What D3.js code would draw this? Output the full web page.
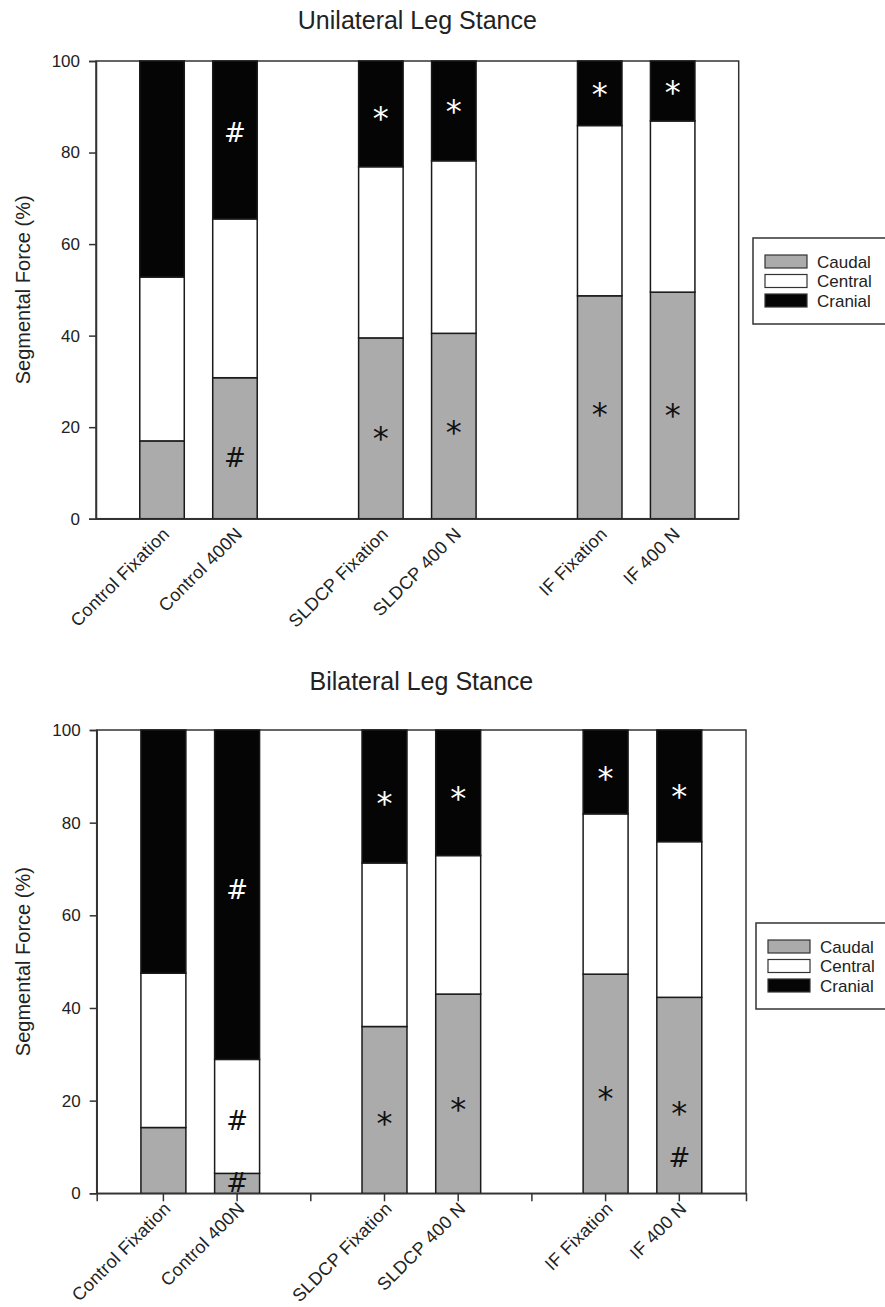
<!DOCTYPE html>
<html>
<head>
<meta charset="utf-8">
<script src="https://cdn.jsdelivr.net/npm/d3@7"></script>
<style>
  body { margin: 0; background: #fff; }
  text { font-family: "Liberation Sans", Arial, sans-serif; fill: #222; }
</style>
</head>
<body>
<svg width="885" height="1307"></svg>
<script>
// categories along x, with two empty slots between the groups
const slots = ["Control Fixation", "Control 400N", "gapA", "SLDCP Fixation", "SLDCP 400 N", "gapB", "IF Fixation", "IF 400 N"]
const categories = ["Control Fixation", "Control 400N", "SLDCP Fixation", "SLDCP 400 N", "IF Fixation", "IF 400 N"]
const segments = ["Caudal", "Central", "Cranial"]
const yTicks = [0, 20, 40, 60, 80, 100]

// unilateral stance (%)
const uniCaudal = [17.0, 30.8, 39.5, 40.5, 48.7, 49.5]
const uniCentral = [35.8, 34.7, 37.4, 37.7, 37.2, 37.4]
const uniCranial = [47.2, 34.5, 23.1, 21.8, 14.1, 13.1]

// bilateral stance (%)
const biCaudal = [14.2, 4.3, 36.0, 43.0, 47.3, 42.3]
const biCentral = [33.3, 24.6, 35.3, 29.9, 34.6, 33.6]
const biCranial = [52.5, 71.1, 28.7, 27.1, 18.1, 24.1]

// significance marks: [category, y value, symbol, segment]
const uniMarks = [
  ["Control 400N", 84.3, "#", "Cranial"],
  ["Control 400N", 13.3, "#", "Caudal"],
  ["SLDCP Fixation", 89.3, "*", "Cranial"],
  ["SLDCP 400 N", 90.8, "*", "Cranial"],
  ["IF Fixation", 94.5, "*", "Cranial"],
  ["IF 400 N", 94.9, "*", "Cranial"],
  ["SLDCP Fixation", 19.2, "*", "Caudal"],
  ["SLDCP 400 N", 20.6, "*", "Caudal"],
  ["IF Fixation", 24.6, "*", "Caudal"],
  ["IF 400 N", 24.3, "*", "Caudal"]
]
const biMarks = [
  ["Control 400N", 65.6, "#", "Cranial"],
  ["Control 400N", 15.6, "#", "Central"],
  ["Control 400N", 2.2, "#", "Caudal"],
  ["SLDCP Fixation", 85.8, "*", "Cranial"],
  ["SLDCP 400 N", 87.0, "*", "Cranial"],
  ["IF Fixation", 91.2, "*", "Cranial"],
  ["IF 400 N", 87.4, "*", "Cranial"],
  ["SLDCP Fixation", 16.9, "*", "Caudal"],
  ["SLDCP 400 N", 19.8, "*", "Caudal"],
  ["IF Fixation", 22.1, "*", "Caudal"],
  ["IF 400 N", 18.9, "*", "Caudal"],
  ["IF 400 N", 7.6, "#", "Caudal"]
]

const fillColor = d3.scaleOrdinal().domain(segments).range(["#ababab", "#ffffff", "#050505"])
const markColor = d3.scaleOrdinal().domain(segments).range(["#111", "#111", "#fff"])

const svg = d3.select("svg")

function drawPanel(opts) {
  const g = svg.append("g")
  const x = d3.scaleBand().domain(slots)
    .range([opts.left, opts.right])
    .paddingInner(0.39).paddingOuter(0.6)
  const y = d3.scaleLinear().domain([0, 100]).range([opts.bottom, opts.top])

  const rows = categories.map((c, i) => ({
    cat: c, Caudal: opts.caudal[i], Central: opts.central[i], Cranial: opts.cranial[i]
  }))
  const stacked = d3.stack().keys(segments)(rows)

  // frame
  g.append("rect")
    .attr("x", opts.left).attr("y", opts.top)
    .attr("width", opts.right - opts.left).attr("height", opts.bottom - opts.top)
    .attr("fill", "none").attr("stroke", "#333").attr("stroke-width", 1.5)

  g.append("g").selectAll("g").data(stacked).enter().append("g")
    .attr("fill", d => fillColor(d.key))
    .selectAll("rect").data(d => d).enter().append("rect")
    .attr("x", d => x(d.data.cat))
    .attr("width", x.bandwidth())
    .attr("y", d => y(d[1]))
    .attr("height", d => y(d[0]) - y(d[1]))
    .attr("stroke", "#1a1a1a").attr("stroke-width", 1.5)

  // y axis
  const yAxis = g.append("g")
    .attr("transform", "translate(" + opts.left + ",0)")
    .call(d3.axisLeft(y).tickValues(yTicks).tickSize(7).tickPadding(9))
  yAxis.select(".domain").attr("stroke", "#333").attr("stroke-width", 1.5)
  yAxis.selectAll(".tick line").attr("stroke", "#333").attr("stroke-width", 1.5)
  yAxis.selectAll(".tick text").style("font-size", "17px").attr("fill", "#333")
    .style("font-family", "Liberation Sans, Arial, sans-serif")

  // x axis
  const xAxis = g.append("g")
    .attr("transform", "translate(0," + opts.bottom + ")")
    .call(d3.axisBottom(x).tickSize(opts.xTicks ? 8 : 0).tickFormat(""))
  xAxis.select(".domain").attr("stroke", "#333").attr("stroke-width", 1.5)
  xAxis.selectAll(".tick line").attr("stroke", "#333").attr("stroke-width", 1.5)

  g.append("g").selectAll("text").data(categories).enter().append("text")
    .attr("transform", d => "translate(" + (x(d) + x.bandwidth() / 2 + 4) + "," + (opts.bottom + 12) + ") rotate(-45)")
    .attr("text-anchor", "end")
    .attr("dy", "0.35em")
    .style("font-size", "18px")
    .style("letter-spacing", "0.3px")
    .attr("fill", "#333")
    .text(d => d)

  // marks
  g.append("g").selectAll("text").data(opts.marks).enter().append("text")
    .attr("x", d => x(d[0]) + x.bandwidth() / 2)
    .attr("y", d => y(d[1]))
    .attr("dy", d => d[2] === "*" ? "0.58em" : "0.36em")
    .attr("text-anchor", "middle")
    .style("font-family", "DejaVu Sans, sans-serif")
    .style("font-size", d => d[2] === "*" ? "32px" : "26px")
    .style("fill", d => markColor(d[3]))
    .text(d => d[2])

  // title
  g.append("text")
    .attr("x", (opts.left + opts.right) / 2)
    .attr("y", opts.titleY)
    .attr("text-anchor", "middle")
    .style("font-size", "25px")
    .text(opts.title)

  // y label
  g.append("text")
    .attr("transform", "translate(30," + (opts.top + opts.bottom) / 2 + ") rotate(-90)")
    .attr("text-anchor", "middle")
    .style("font-size", "20px")
    .attr("fill", "#333")
    .text("Segmental Force (%)")

  // legend
  const lg = g.append("g").attr("transform", "translate(" + opts.legendX + "," + opts.legendY + ")")
  lg.append("rect").attr("width", 150).attr("height", 86)
    .attr("fill", "#fff").attr("stroke", "#333").attr("stroke-width", 1.5)
  const item = lg.selectAll("g").data(segments).enter().append("g")
    .attr("transform", (d, i) => "translate(12," + (17 + i * 19.5) + ")")
  item.append("rect").attr("width", 42).attr("height", 13)
    .attr("fill", d => fillColor(d)).attr("stroke", "#333").attr("stroke-width", 1.2)
  item.append("text").attr("x", 52).attr("y", 6.5).attr("dy", "0.36em")
    .style("font-size", "17px").attr("fill", "#333")
    .text(d => d)
}

drawPanel({
  left: 96, right: 738.7, top: 61, bottom: 518.7,
  caudal: uniCaudal, central: uniCentral, cranial: uniCranial,
  marks: uniMarks, xTicks: false,
  title: "Unilateral Leg Stance", titleY: 29,
  legendX: 753, legendY: 238
})

drawPanel({
  left: 96.7, right: 746, top: 730, bottom: 1193.3,
  caudal: biCaudal, central: biCentral, cranial: biCranial,
  marks: biMarks, xTicks: true,
  title: "Bilateral Leg Stance", titleY: 690,
  legendX: 756, legendY: 923
})
</script>
</body>
</html>
